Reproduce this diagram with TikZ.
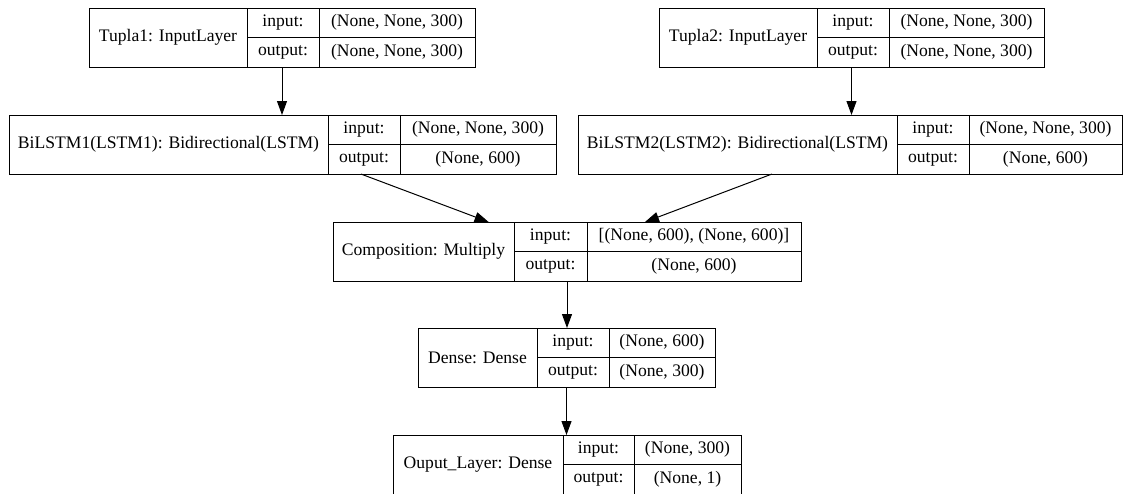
\documentclass[tikz,border=0pt]{standalone}
\usepackage{fontspec}
\setmainfont{Liberation Serif}
\usetikzlibrary{arrows.meta,fit}

\begin{document}
\begin{tikzpicture}[x=1pt,y=1pt,
  cell/.style={draw, line width=1pt, outer sep=0pt, inner sep=0pt,
    minimum height=29.5pt, anchor=north west, font=\fontsize{17.6}{20}\selectfont},
  lbl/.style={cell, minimum height=59pt},
  wrap/.style={inner sep=0pt, outer sep=0pt},
  arr/.style={-{Triangle[length=14pt,width=10pt]}, line width=1pt}]
\useasboundingbox (0,0) rectangle (1123,-493);

% Tupla1
\node [lbl, minimum width=158pt] (t1) at (89,-8) {Tupla1: InputLayer};
\node [cell, minimum width=72pt] (t1i) at (t1.north east) {input:};
\node [cell, minimum width=72pt] (t1o) at (t1i.south west) {output:};
\node [cell, minimum width=156pt] (t1iv) at (t1i.north east) {(None, None, 300)};
\node [cell, minimum width=156pt] (t1ov) at (t1iv.south west) {(None, None, 300)};
\node [wrap, fit=(t1)(t1ov)] (tupla1) {};

% Tupla2
\node [lbl, minimum width=158pt] (t2) at (659,-8) {Tupla2: InputLayer};
\node [cell, minimum width=72pt] (t2i) at (t2.north east) {input:};
\node [cell, minimum width=72pt] (t2o) at (t2i.south west) {output:};
\node [cell, minimum width=155pt] (t2iv) at (t2i.north east) {(None, None, 300)};
\node [cell, minimum width=155pt] (t2ov) at (t2iv.south west) {(None, None, 300)};
\node [wrap, fit=(t2)(t2ov)] (tupla2) {};

% BiLSTM1
\node [lbl, minimum width=319pt] (b1) at (9,-115) {BiLSTM1(LSTM1): Bidirectional(LSTM)};
\node [cell, minimum width=72pt] (b1i) at (b1.north east) {input:};
\node [cell, minimum width=72pt] (b1o) at (b1i.south west) {output:};
\node [cell, minimum width=156pt] (b1iv) at (b1i.north east) {(None, None, 300)};
\node [cell, minimum width=156pt] (b1ov) at (b1iv.south west) {(None, 600)};
\node [wrap, fit=(b1)(b1ov)] (bilstm1) {};

% BiLSTM2
\node [lbl, minimum width=319pt] (b2) at (578,-115) {BiLSTM2(LSTM2): Bidirectional(LSTM)};
\node [cell, minimum width=72pt] (b2i) at (b2.north east) {input:};
\node [cell, minimum width=72pt] (b2o) at (b2i.south west) {output:};
\node [cell, minimum width=153pt] (b2iv) at (b2i.north east) {(None, None, 300)};
\node [cell, minimum width=153pt] (b2ov) at (b2iv.south west) {(None, 600)};
\node [wrap, fit=(b2)(b2ov)] (bilstm2) {};

% Composition
\node [lbl, minimum width=181pt] (c) at (333,-222) {Composition: Multiply};
\node [cell, minimum width=73pt] (ci) at (c.north east) {input:};
\node [cell, minimum width=73pt] (co) at (ci.south west) {output:};
\node [cell, minimum width=214pt] (civ) at (ci.north east) {[(None, 600), (None, 600)]};
\node [cell, minimum width=214pt] (cov) at (civ.south west) {(None, 600)};
\node [wrap, fit=(c)(cov)] (comp) {};

% Dense
\node [lbl, minimum width=119pt] (d) at (418,-328) {Dense: Dense};
\node [cell, minimum width=72pt] (di) at (d.north east) {input:};
\node [cell, minimum width=72pt] (do) at (di.south west) {output:};
\node [cell, minimum width=106pt] (div) at (di.north east) {(None, 600)};
\node [cell, minimum width=106pt] (dov) at (div.south west) {(None, 300)};
\node [wrap, fit=(d)(dov)] (dense) {};

% Ouput_Layer
\node [lbl, minimum width=170pt] (o) at (393,-435) {Ouput\_Layer: Dense};
\node [cell, minimum width=71pt] (oi) at (o.north east) {input:};
\node [cell, minimum width=71pt] (oo) at (oi.south west) {output:};
\node [cell, minimum width=107pt] (oiv) at (oi.north east) {(None, 300)};
\node [cell, minimum width=107pt] (oov) at (oiv.south west) {(None, 1)};
\node [wrap, fit=(o)(oov)] (outlayer) {};

\draw [arr] (tupla1.south) -- (tupla1.south |- bilstm1.north);
\draw [arr] (tupla2.south) -- (tupla2.south |- bilstm2.north);
\draw [arr] (bilstm1) -- (comp);
\draw [arr] (bilstm2) -- (comp);
\draw [arr] (comp.south) -- (comp.south |- dense.north);
\draw [arr] (dense.south) -- (dense.south |- outlayer.north);
\end{tikzpicture}
\end{document}
